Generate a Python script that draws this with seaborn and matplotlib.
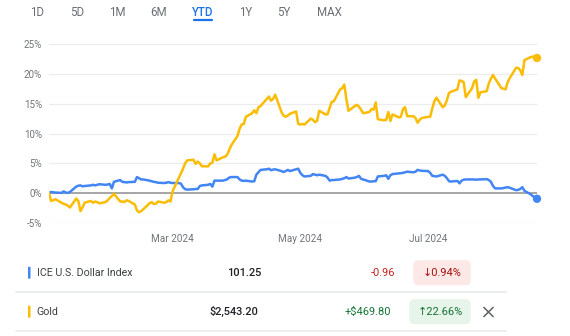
import matplotlib
matplotlib.use("Agg")
import matplotlib.pyplot as plt
import seaborn as sns
import pandas as pd
import numpy as np
from matplotlib.patches import FancyBboxPatch
from matplotlib.lines import Line2D

sns.set_theme(style="white")
plt.rcParams["font.family"] = ["Roboto", "DejaVu Sans"]

# Year-to-date % change, one value per business day (2024-01-02 .. 2024-08-22)
usd_jan = [0.0, 0.2, 0.15, 0.1, 0.05, 0.3, 0.1, 0.05, 0.2, 1.1, 1.25, 1.3, 1.15, 1.2,
           1.3, 1.4, 1.3, 1.4, 1.5, 1.4, 1.45, 1.55]
usd_feb = [0.8, 1.9, 2.2, 1.9, 1.85, 1.8, 1.85, 1.9, 2.7, 2.5, 2.3, 2.3, 2.1, 2.0,
           1.9, 1.85, 1.75, 1.7, 1.75, 1.85, 1.75]
usd_mar = [1.7, 1.7, 1.6, 1.0, 0.65, 0.6, 0.65, 0.7, 0.7, 1.2, 1.3, 1.4, 1.55, 1.1,
           2.1, 2.1, 2.1, 2.2, 2.3, 2.6, 2.7]
usd_apr = [2.7, 2.3, 2.1, 2.05, 2.1, 1.95, 2.0, 3.1, 3.5, 3.9, 4.0, 4.1, 3.85, 3.95,
           4.0, 3.7, 3.55, 3.7, 3.9, 3.7, 4.0, 4.1]
usd_may = [3.4, 3.0, 2.8, 2.9, 3.2, 3.1, 3.0, 3.1, 2.9, 2.6, 2.1, 2.2, 2.2, 2.3, 2.4,
           2.5, 2.7, 2.45, 2.6, 2.7, 2.9, 2.4, 2.3]
usd_jun = [1.95, 1.95, 2.0, 2.0, 2.8, 2.9, 3.0, 2.4, 3.0, 3.2, 3.3, 3.35, 3.4, 3.5,
           3.6, 3.5, 3.6, 3.9, 3.8, 3.75]
usd_jul = [3.7, 3.4, 2.9, 2.85, 2.8, 3.1, 2.9, 2.5, 2.0, 1.95, 2.05, 1.65, 2.1, 2.25,
           2.3, 2.3, 2.3, 2.25, 2.3, 2.3, 2.35, 2.2, 1.9]
usd_aug = [1.2, 0.8, 0.8, 0.85, 0.95, 1.0, 0.9, 0.5, 0.55, 0.7, 1.0, 0.4, -0.2, -0.5,
           -0.7, -0.94]

gold_jan = [0.0, -1.3, -1.2, -1.0, -1.6, -1.8, -1.9, -2.1, -2.4, -0.9, -1.3, -3.0, -2.4,
            -1.6, -1.3, -1.6, -1.4, -1.5, -1.7, -1.5, -1.2, -0.8]
gold_feb = [-0.5, -0.1, -1.4, -1.4, -1.5, -1.2, -1.3, -1.9, -2.9, -3.2, -3.0, -2.7, -1.7,
            -1.5, -1.8, -1.8, -1.4, -1.6, -1.5, -1.2, -1.4]
gold_mar = [0.3, 2.6, 3.3, 4.1, 5.0, 5.5, 5.6, 4.9, 5.3, 5.0, 4.5, 4.5, 5.0, 5.1, 6.5,
            5.5, 6.0, 6.1, 6.4, 7.2, 8.0]
gold_apr = [9.6, 10.8, 11.5, 11.6, 12.8, 13.4, 13.9, 13.4, 14.4, 14.6, 15.8, 16.2, 15.5,
            15.8, 16.5, 13.6, 13.0, 12.8, 13.0, 13.3, 13.7, 11.6]
gold_may = [11.5, 11.6, 11.5, 12.5, 12.3, 11.9, 12.1, 13.8, 13.2, 13.2, 14.3, 15.3, 15.4,
            17.4, 17.6, 18.2, 15.7, 13.8, 14.6, 14.8, 14.5, 14.0, 13.4]
gold_jun = [13.6, 14.1, 14.0, 15.2, 12.4, 12.2, 12.3, 13.6, 12.1, 13.2, 12.7, 12.8, 14.1,
            14.4, 12.9, 12.9, 12.6, 11.8, 12.3, 12.6]
gold_jul = [12.8, 12.8, 14.2, 15.4, 16.0, 14.4, 14.7, 15.6, 16.8, 17.0, 17.4, 18.9, 18.8,
            18.6, 16.1, 17.6, 18.7, 19.0, 16.0, 16.9, 17.1, 18.4, 19.2]
gold_aug = [19.8, 19.2, 17.6, 17.5, 17.4, 18.6, 19.3, 21.0, 21.0, 20.6, 19.8, 22.3, 22.8,
            22.9, 22.8, 22.66]

usd = usd_jan + usd_feb + usd_mar + usd_apr + usd_may + usd_jun + usd_jul + usd_aug
gold = gold_jan + gold_feb + gold_mar + gold_apr + gold_may + gold_jun + gold_jul + gold_aug
dates = pd.bdate_range("2024-01-02", "2024-08-22")

series_names = ["ICE U.S. Dollar Index", "Gold"]
series_colors = {"ICE U.S. Dollar Index": "#4285f4", "Gold": "#fbbc04"}

df = pd.DataFrame({
    "date": list(dates) * 2,
    "series": [series_names[0]] * len(usd) + [series_names[1]] * len(gold),
    "change": usd + gold,
})

range_tabs = ["1D", "5D", "1M", "6M", "YTD", "1Y", "5Y", "MAX"]
active_tab = "YTD"
y_ticks = [-5, 0, 5, 10, 15, 20, 25]
x_tick_dates = ["2024-03-01", "2024-05-01", "2024-07-01"]
x_tick_labels = ["Mar 2024", "May 2024", "Jul 2024"]

prices = ["101.25", "$2,543.20"]
abs_changes = ["-0.96", "+$469.80"]
pct_changes = ["\u21930.94%", "\u219122.66%"]

W, H = 570, 336
fig = plt.figure(figsize=(W / 100, H / 100), dpi=100)
fig.patch.set_facecolor("white")


def fx(px):
    return px / W


def fy(py):
    return 1 - py / H


# ---- chart ----
ax = fig.add_axes([fx(49), fy(223), fx(537) - fx(49), fy(44) - fy(223)])
ax.set_facecolor("white")
for v in y_ticks:
    if v != 0:
        ax.axhline(v, color="#ececec", lw=0.9, zorder=0)
ax.axhline(0, color="#9e9e9e", lw=1.3, zorder=1)

sns.lineplot(data=df, x="date", y="change", hue="series", hue_order=series_names,
             palette=series_colors, linewidth=1.8, legend=False, ax=ax, zorder=3)

last = df.groupby("series", sort=False).tail(1)
sns.scatterplot(data=last, x="date", y="change", hue="series", hue_order=series_names,
                palette=series_colors, s=36, edgecolor="none", legend=False, ax=ax,
                zorder=4, clip_on=False)

ax.set_xlim(dates[0], dates[-1])
ax.set_ylim(-5, 25)
ax.set_yticks(y_ticks)
ax.set_yticklabels([f"{v}%" for v in y_ticks])
ax.set_xticks(pd.to_datetime(x_tick_dates))
ax.set_xticklabels(x_tick_labels)
ax.set_xlabel("")
ax.set_ylabel("")
for s in ax.spines.values():
    s.set_visible(False)
ax.tick_params(axis="y", length=0, pad=5, labelsize=7, labelcolor="#70757a")
ax.tick_params(axis="x", length=3.2, width=1, color="#5f6368", pad=5,
               labelsize=7.2, labelcolor="#70757a", direction="out")
ax.grid(False)

# ---- range tabs ----
tab_x = [37.2, 76.7, 117, 158.3, 203, 245.3, 284, 329.8]
for label, x in zip(range_tabs, tab_x):
    active = label == active_tab
    fig.text(fx(x), fy(12.5), label, ha="center", va="center", fontsize=8.3,
             color="#1a73e8" if active else "#6b6f74",
             fontweight="medium" if active else "normal")
fig.add_artist(Line2D([fx(194), fx(212)], [fy(20), fy(20)], color="#1a73e8",
                      lw=1.6, solid_capstyle="round"))

# ---- quote table ----
row_y = [272.7, 311.7]
badge_face = ["#fce8e6", "#e6f4ea"]
badge_text = ["#a50e0e", "#137333"]
change_text = ["#c5221f", "#137333"]
badge_left = [413.3, 409.3]
badge_right = 470.7
for i, name in enumerate(series_names):
    y = row_y[i]
    fig.add_artist(FancyBboxPatch((28 / 100, (H - y - 6) / 100), 0.025, 0.12,
                                  boxstyle="round,pad=0,rounding_size=0.008",
                                  transform=fig.dpi_scale_trans,
                                  facecolor=series_colors[name], edgecolor="none"))
    fig.text(fx(36.7), fy(y), name, ha="left", va="center", fontsize=7.7, color="#3c4043")
    fig.text(fx([261, 258.3][i]), fy(y), prices[i], ha="right", va="center",
             fontsize=7.9, color="#202124", fontweight="medium")
    fig.text(fx([395.3, 390.7][i]), fy(y), abs_changes[i], ha="right", va="center",
             fontsize=7.9, color=change_text[i])
    bl = badge_left[i]
    fig.add_artist(FancyBboxPatch((bl / 100, (H - y - 12.5) / 100),
                                  (badge_right - bl) / 100, 0.25,
                                  boxstyle="round,pad=0,rounding_size=0.05",
                                  transform=fig.dpi_scale_trans,
                                  facecolor=badge_face[i], edgecolor="none"))
    fig.text(fx((bl + badge_right) / 2), fy(y), pct_changes[i], ha="center", va="center",
             fontsize=7.9, color=badge_text[i])
    fig.add_artist(Line2D([fx(16), fx(506)], [fy(y + 19.5), fy(y + 19.5)],
                          color="#e8eaed", lw=1.2))

# close icon on the second row
cx, cy, hs = 488.5, 312, 4.6
fig.add_artist(Line2D([fx(cx - hs), fx(cx + hs)], [fy(cy - hs), fy(cy + hs)],
                      color="#5f6368", lw=1.1))
fig.add_artist(Line2D([fx(cx - hs), fx(cx + hs)], [fy(cy + hs), fy(cy - hs)],
                      color="#5f6368", lw=1.1))

fig.savefig("out.png", dpi=100, facecolor="white")
